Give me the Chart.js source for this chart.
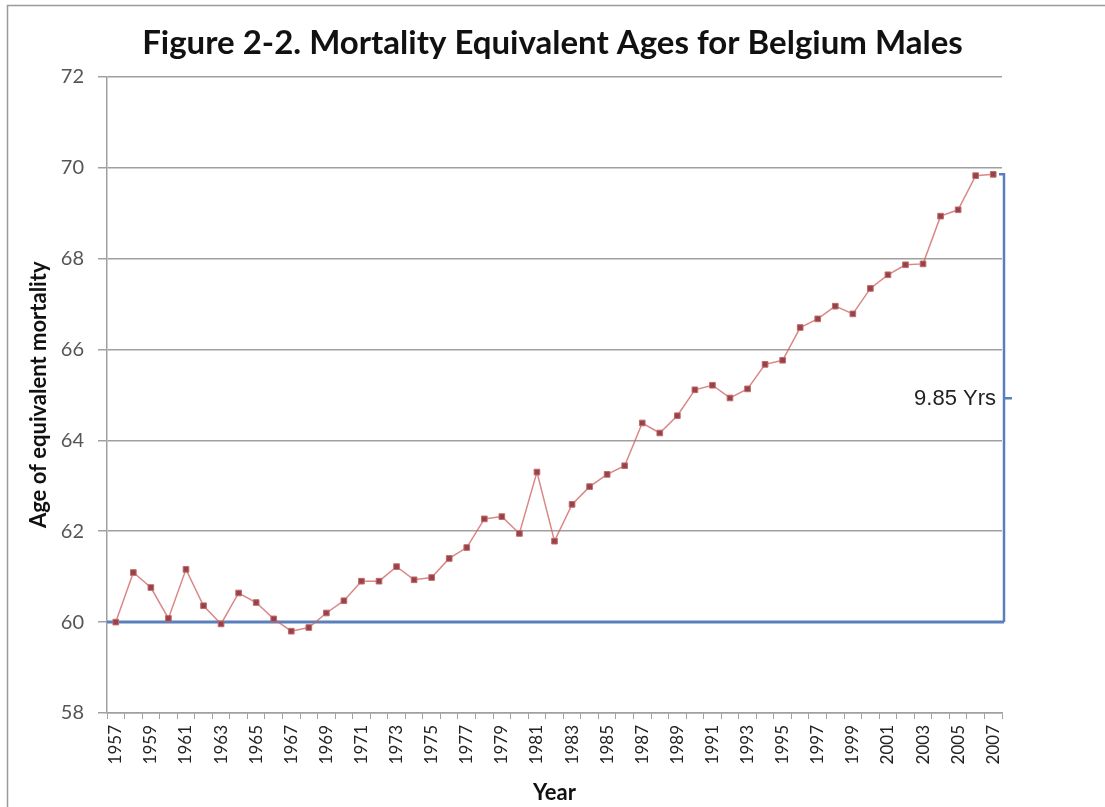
<!DOCTYPE html>
<html>
<head>
<meta charset="utf-8">
<script src="https://cdn.jsdelivr.net/npm/chart.js@4/dist/chart.umd.min.js"></script>
<style>
  html, body { margin: 0; padding: 0; background: #fff; }
  canvas { display: block; }
</style>
</head>
<body>
<canvas id="mortality" width="1105" height="807"></canvas>
<script>
// data
var years = ['1957', '1958', '1959', '1960', '1961', '1962', '1963', '1964', '1965', '1966',
    '1967', '1968', '1969', '1970', '1971', '1972', '1973', '1974', '1975', '1976',
    '1977', '1978', '1979', '1980', '1981', '1982', '1983', '1984', '1985', '1986',
    '1987', '1988', '1989', '1990', '1991', '1992', '1993', '1994', '1995', '1996',
    '1997', '1998', '1999', '2000', '2001', '2002', '2003', '2004', '2005', '2006', '2007'];

var equivalentAge = [60.00, 61.09, 60.76, 60.08, 61.16, 60.36, 59.96, 60.64, 60.43, 60.07,
    59.80, 59.88, 60.20, 60.47, 60.90, 60.90, 61.22, 60.93, 60.98, 61.40,
    61.64, 62.27, 62.32, 61.95, 63.30, 61.78, 62.59, 62.98, 63.25, 63.44,
    64.38, 64.16, 64.54, 65.11, 65.21, 64.93, 65.13, 65.67, 65.76, 66.48,
    66.67, 66.95, 66.78, 67.34, 67.64, 67.86, 67.88, 68.93, 69.07, 69.82, 69.85];

var yTicks = [58, 60, 62, 64, 66, 68, 70, 72];

// bracket showing the gain
var bracketBase = 60;
var bracketTop = 69.85;
var bracketLabel = '9.85 Yrs';

var frame = {
    id: 'frame',
    beforeDraw: function(chart) {
        var ctx = chart.ctx;
        ctx.save();
        ctx.fillStyle = '#fff';
        ctx.fillRect(0, 0, chart.width, chart.height);
        ctx.strokeStyle = '#9a9a9a';
        ctx.lineWidth = 1.5;
        ctx.beginPath();
        ctx.moveTo(7.5, chart.height);
        ctx.lineTo(7.5, 5.5);
        ctx.lineTo(chart.width, 5.5);
        ctx.stroke();
        ctx.restore();
    }
};

var bracket = {
    id: 'bracket',
    beforeDatasetsDraw: function(chart) {
        var ctx = chart.ctx;
        var area = chart.chartArea;
        var y = chart.scales.y;
        var yBase = y.getPixelForValue(bracketBase);
        var yTop = y.getPixelForValue(bracketTop);
        var xr = area.right + 2;
        ctx.save();
        ctx.strokeStyle = '#5a7fbd';
        ctx.lineWidth = 3;
        ctx.beginPath();
        ctx.moveTo(area.left, yBase);
        ctx.lineTo(xr, yBase);
        ctx.stroke();
        ctx.lineWidth = 2.5;
        ctx.beginPath();
        ctx.moveTo(xr - 5, yTop);
        ctx.lineTo(xr, yTop);
        ctx.lineTo(xr, yBase);
        ctx.moveTo(xr, (yTop + yBase) / 2);
        ctx.lineTo(xr + 8, (yTop + yBase) / 2);
        ctx.stroke();
        ctx.fillStyle = '#222';
        ctx.font = '22px "Liberation Sans", Arial, sans-serif';
        ctx.textAlign = 'right';
        ctx.textBaseline = 'middle';
        ctx.fillText(bracketLabel, xr - 8, (yTop + yBase) / 2 + 1);
        ctx.restore();
    }
};

var ctx = document.getElementById('mortality').getContext('2d');
new Chart(ctx, {
    type: 'line',
    data: {
        labels: years,
        datasets: [{
            label: 'Age of equivalent mortality',
            data: equivalentAge,
            borderColor: 'rgba(205, 95, 95, 0.75)',
            borderWidth: 1.5,
            pointStyle: 'rect',
            pointRadius: 4,
            pointBackgroundColor: '#94434a',
            pointBorderColor: '#c46a6a',
            pointBorderWidth: 1,
            tension: 0
        }]
    },
    options: {
        responsive: false,
        animation: false,
        layout: { padding: 0 },
        plugins: {
            legend: { display: false },
            tooltip: { enabled: false },
            title: {
                display: true,
                text: 'Figure 2-2. Mortality Equivalent Ages for Belgium Males',
                color: '#111',
                font: { family: 'Lato', size: 33, weight: 'bold' },
                padding: { top: 24, bottom: 13 }
            }
        },
        scales: {
            x: {
                offset: true,
                grid: {
                    offset: true,
                    drawOnChartArea: false,
                    drawTicks: true,
                    tickLength: 6,
                    color: '#a0a0a0'
                },
                border: { color: '#a0a0a0', width: 1.5 },
                ticks: {
                    autoSkip: false,
                    maxRotation: 90,
                    minRotation: 90,
                    padding: 6,
                    color: '#222',
                    font: { family: 'Lato', size: 17 },
                    callback: function(value, index) {
                        return index % 2 === 0 ? years[index] : '';
                    }
                },
                title: {
                    display: true,
                    text: 'Year',
                    color: '#111',
                    font: { family: 'Lato', size: 22, weight: 'bold' },
                    padding: { top: 0, bottom: 1 }
                },
                afterFit: function(scale) { scale.height = 94; }
            },
            y: {
                min: 58,
                max: 72,
                afterBuildTicks: function(scale) {
                    scale.ticks = yTicks.map(function(v) { return { value: v }; });
                },
                grid: {
                    color: '#a0a0a0',
                    lineWidth: 1.5,
                    tickLength: 9
                },
                border: { color: '#a0a0a0', width: 1.5 },
                ticks: {
                    padding: 14,
                    color: '#555',
                    font: { family: 'Lato', size: 20 }
                },
                title: {
                    display: true,
                    text: 'Age of equivalent mortality',
                    color: '#111',
                    font: { family: 'Lato', size: 22, weight: 'bold' },
                    padding: { top: 26, bottom: 0 }
                },
                afterFit: function(scale) { scale.width = 107; }
            },
            spacer: {
                position: 'right',
                display: true,
                grid: { drawOnChartArea: false, drawTicks: false },
                border: { display: false },
                ticks: { display: false },
                afterFit: function(scale) { scale.width = 103; }
            }
        }
    },
    plugins: [frame, bracket]
});
</script>
</body>
</html>
